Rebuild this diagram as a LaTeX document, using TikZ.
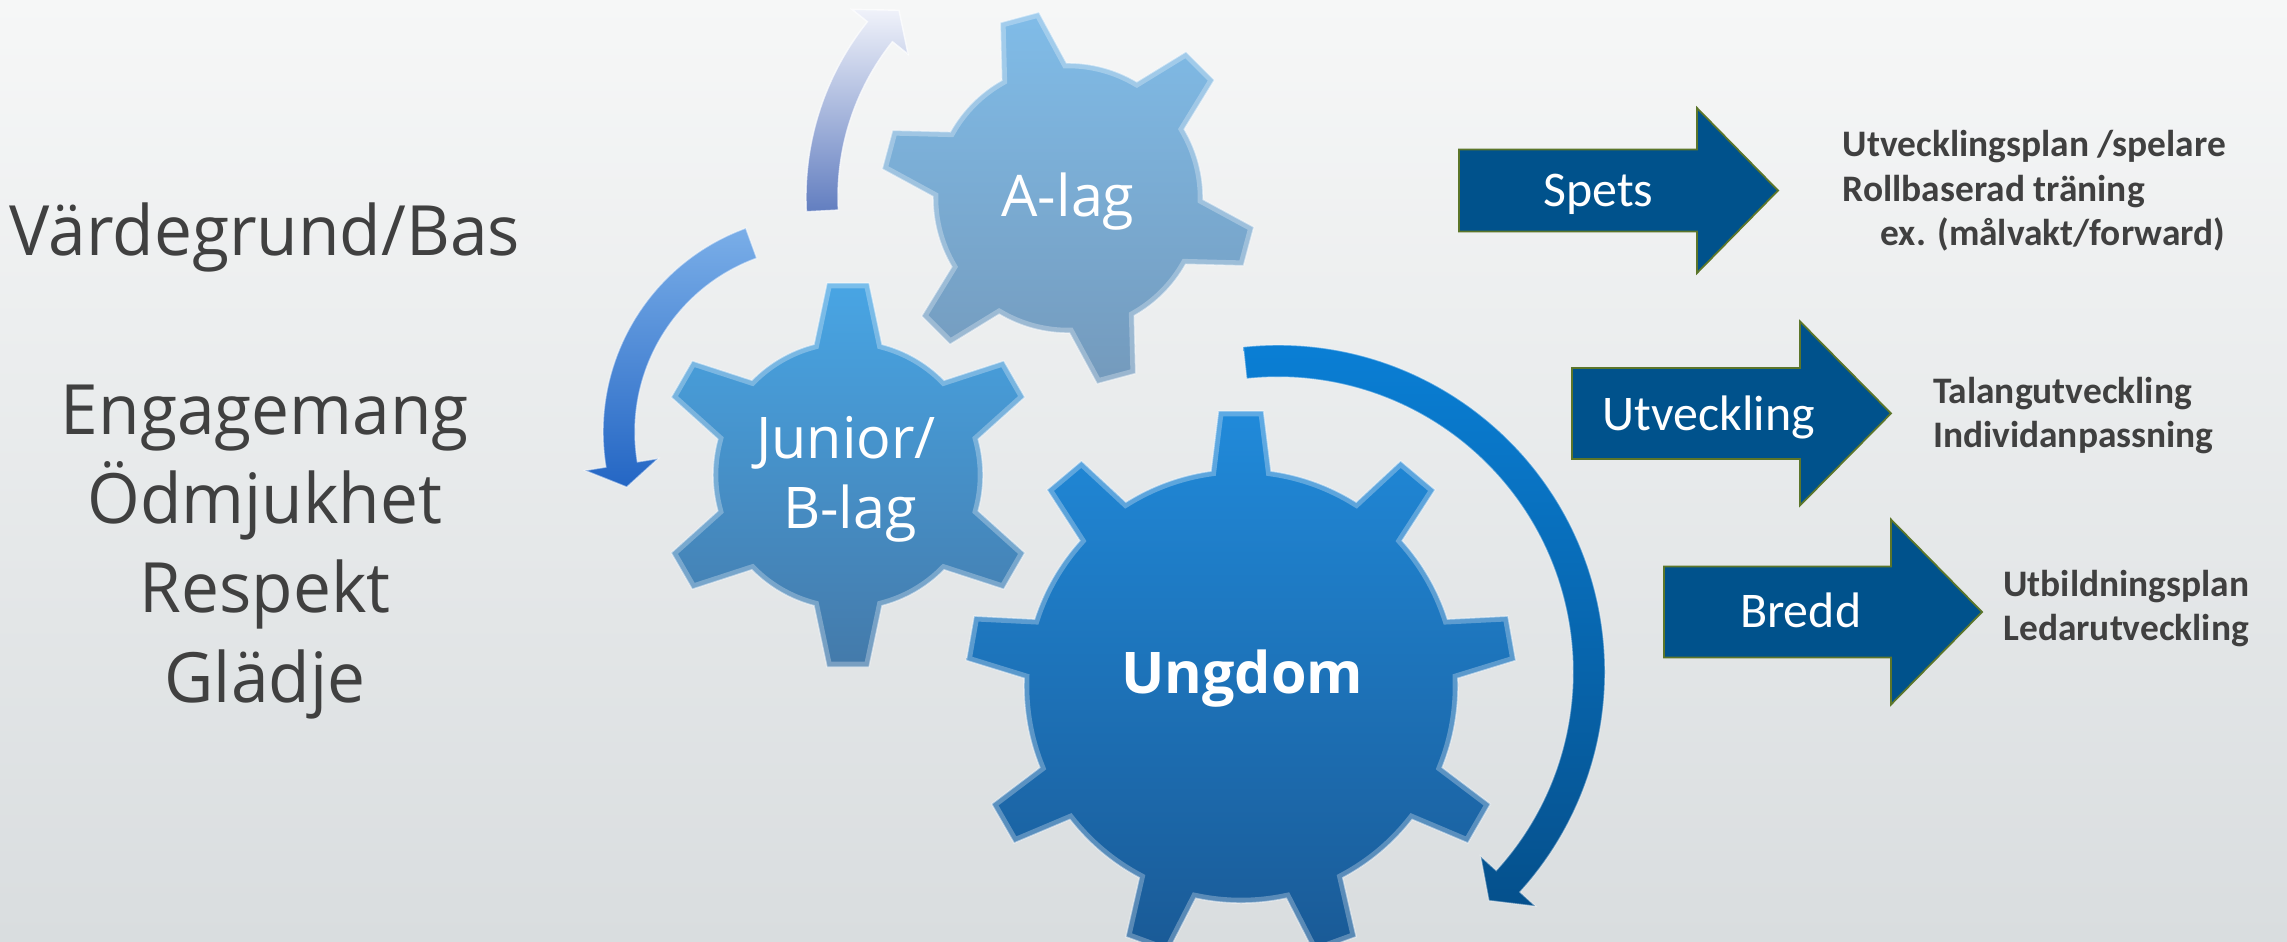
\documentclass[tikz,border=0pt]{standalone}
\usepackage{fontspec}
\newfontfamily\segoe{Open Sans}
\newfontfamily\calib{Carlito}
\definecolor{bgtop}{RGB}{246,247,247}
\definecolor{bgbot}{RGB}{217,221,223}
\definecolor{txtgray}{RGB}{64,64,64}
\definecolor{alagtop}{RGB}{128,188,232}
\definecolor{alagbot}{RGB}{116,154,188}
\definecolor{juntop}{RGB}{72,165,228}
\definecolor{junbot}{RGB}{68,122,170}
\definecolor{ungtop}{RGB}{32,138,218}
\definecolor{ungbot}{RGB}{26,90,150}
\definecolor{tatop}{RGB}{240,242,250}
\definecolor{tabot}{RGB}{98,126,192}
\definecolor{latop}{RGB}{122,174,232}
\definecolor{labot}{RGB}{36,102,196}
\definecolor{ratop}{RGB}{10,128,215}
\definecolor{rabot}{RGB}{5,80,140}
\definecolor{blockfill}{RGB}{0,82,140}
\definecolor{blockedge}{RGB}{92,118,42}

% gear: cx cy n a0 R Rt wb wt style
\newcommand{\gearshape}[9]{%
  \pgfmathsetmacro{\gdb}{asin(#7/#5)}%
  \pgfmathsetmacro{\gdt}{atan(#8/#6)}%
  \pgfmathsetmacro{\grt}{#6/cos(\gdt)}%
  \pgfmathsetmacro{\gstep}{360/#3}%
  \pgfmathtruncatemacro{\glast}{#3-1}%
  \def\gearP{(#4-\gdb:#5)
      \foreach \k in {0,...,\glast}{
        -- (#4+\k*\gstep-\gdt:\grt) -- (#4+\k*\gstep+\gdt:\grt)
        -- (#4+\k*\gstep+\gdb:#5)
        arc[start angle=#4+\k*\gstep+\gdb, end angle=#4+\k*\gstep+\gstep-\gdb, radius=#5]
      } -- cycle}%
  \begin{scope}[shift={(#1,-#2)}]
    \path[#9] \gearP;
    \begin{scope}
      \clip \gearP;
      \path[draw=white,draw opacity=0.28,line width=6pt] \gearP;
    \end{scope}
    \path[draw=white,draw opacity=0.5,line width=0.8pt] \gearP;
  \end{scope}}

% curved arrow: cx cy r tail base tip w H style
\newcommand{\bentarrow}[9]{%
  \pgfmathsetmacro{\bro}{#3+#7}%
  \pgfmathsetmacro{\bri}{#3-#7}%
  \pgfmathsetmacro{\bho}{#3+#8}%
  \pgfmathsetmacro{\bhi}{#3-#8}%
  \begin{scope}[shift={(#1,-#2)}]
    \path[#9] (#4:\bro) arc[start angle=#4, end angle=#5, radius=\bro]
      -- (#5:\bho) -- (#6:#3) -- (#5:\bhi) -- (#5:\bri)
      arc[start angle=#5, end angle=#4, radius=\bri] -- cycle;
  \end{scope}}

% block arrow: x0 x1 x2 ymid bodyhalf headhalf style
\newcommand{\blockarrow}[7]{%
  \path[#7] (#1,-#4+#5) -- (#2,-#4+#5) -- (#2,-#4+#6) -- (#3,-#4)
    -- (#2,-#4-#6) -- (#2,-#4-#5) -- (#1,-#4-#5) -- cycle;}

\newcommand{\narrow}[1]{\scalebox{0.975}[1]{#1}}

\begin{document}
\begin{tikzpicture}[x=0.02cm,y=0.02cm,
  lefttxt/.style={inner sep=0pt,anchor=base,text=txtgray,font=\segoe\fontsize{39.5}{47}\selectfont},
  geartxt/.style={inner sep=0pt,anchor=base,text=white,font=\segoe\fontsize{32.7}{39}\selectfont},
  ungtxt/.style={inner sep=0pt,anchor=base,text=white,font=\segoe\bfseries\fontsize{32.7}{39}\selectfont},
  blocktxt/.style={inner sep=0pt,anchor=base,text=white,font=\calib\fontsize{28.4}{34}\selectfont},
  righttxt/.style={inner sep=0pt,anchor=base west,text=txtgray,font=\calib\bfseries\fontsize{21.3}{26}\selectfont},
  blockstyle/.style={fill=blockfill,draw=blockedge,line width=1pt}]
\useasboundingbox (0,0) rectangle (2287,-941);
\shade[top color=bgtop,bottom color=bgbot] (0,0) rectangle (2287,-941);

% gears
\coordinate (galag) at (1068,-198);
\coordinate (gjun) at (848,-475);
\coordinate (gung) at (1241,-686);
\gearshape{1068}{198}{6}{105}{135}{187}{33.5}{20}{top color=alagtop,bottom color=alagbot}
\gearshape{848}{475}{6}{90}{135}{192}{34}{21}{top color=juntop,bottom color=junbot}
\gearshape{1241}{686}{9}{90}{217}{275}{30}{22.5}{top color=ungtop,bottom color=ungbot}

% curved arrows
\bentarrow{1087}{197}{265}{183}{141.4}{135.2}{16}{36}{top color=tatop,bottom color=tabot,draw=white,draw opacity=0.7,line width=0.8pt}
\bentarrow{820}{432}{201}{110}{189.3}{195.9}{16}{37}{top color=latop,bottom color=labot,draw=white,draw opacity=0.5,line width=0.8pt}
\bentarrow{1278}{672}{311}{96.1}{-42.3}{-47.3}{16}{37}{top color=ratop,bottom color=rabot,draw=white,draw opacity=0.4,line width=0.8pt}

% block arrows
\blockarrow{1459}{1697}{1778}{190.5}{41}{82.5}{blockstyle}
\blockarrow{1572}{1800}{1891}{413.4}{45.5}{92}{blockstyle}
\blockarrow{1664}{1891}{1982}{612}{45.5}{92.5}{blockstyle}

% left texts
\node[lefttxt] (vard) at (265,-255.4) {\narrow{Värdegrund/Bas}};
\node[lefttxt] (eng) at (265,-434.5) {\narrow{Engagemang}};
\node[lefttxt] (odm) at (265,-523) {\narrow{Ödmjukhet}};
\node[lefttxt] (res) at (265,-612.5) {\narrow{Respekt}};
\node[lefttxt] (gla) at (265,-702) {\narrow{Glädje}};

% gear texts
\node[geartxt] (alag) at (1068,-216.7) {A-lag};
\node[geartxt] (jun) at (846,-458.3) {Junior/};
\node[geartxt] (blag) at (850,-528.3) {B-lag};
\node[ungtxt] (ung) at (1242,-693.2) {Ungdom};

% block labels
\node[blocktxt] (spets) at (1598.5,-206.6) {Spets};
\node[blocktxt] (utv) at (1708.8,-430) {Utveckling};
\node[blocktxt] (bredd) at (1800.6,-627.8) {Bredd};

% right texts
\node[righttxt] (r1) at (1842.5,-156.4) {Utvecklingsplan /spelare};
\node[righttxt] (r2) at (1842.5,-201.9) {Rollbaserad träning};
\node[righttxt] (r3) at (1880.3,-245.4) {ex. (målvakt/forward)};
\node[righttxt] (r4) at (1932.7,-403.6) {Talangutveckling};
\node[righttxt] (r5) at (1932.7,-447.9) {Individanpassning};
\node[righttxt] (r6) at (2003,-596.1) {Utbildningsplan};
\node[righttxt] (r7) at (2003,-640.8) {Ledarutveckling};
\end{tikzpicture}
\end{document}
